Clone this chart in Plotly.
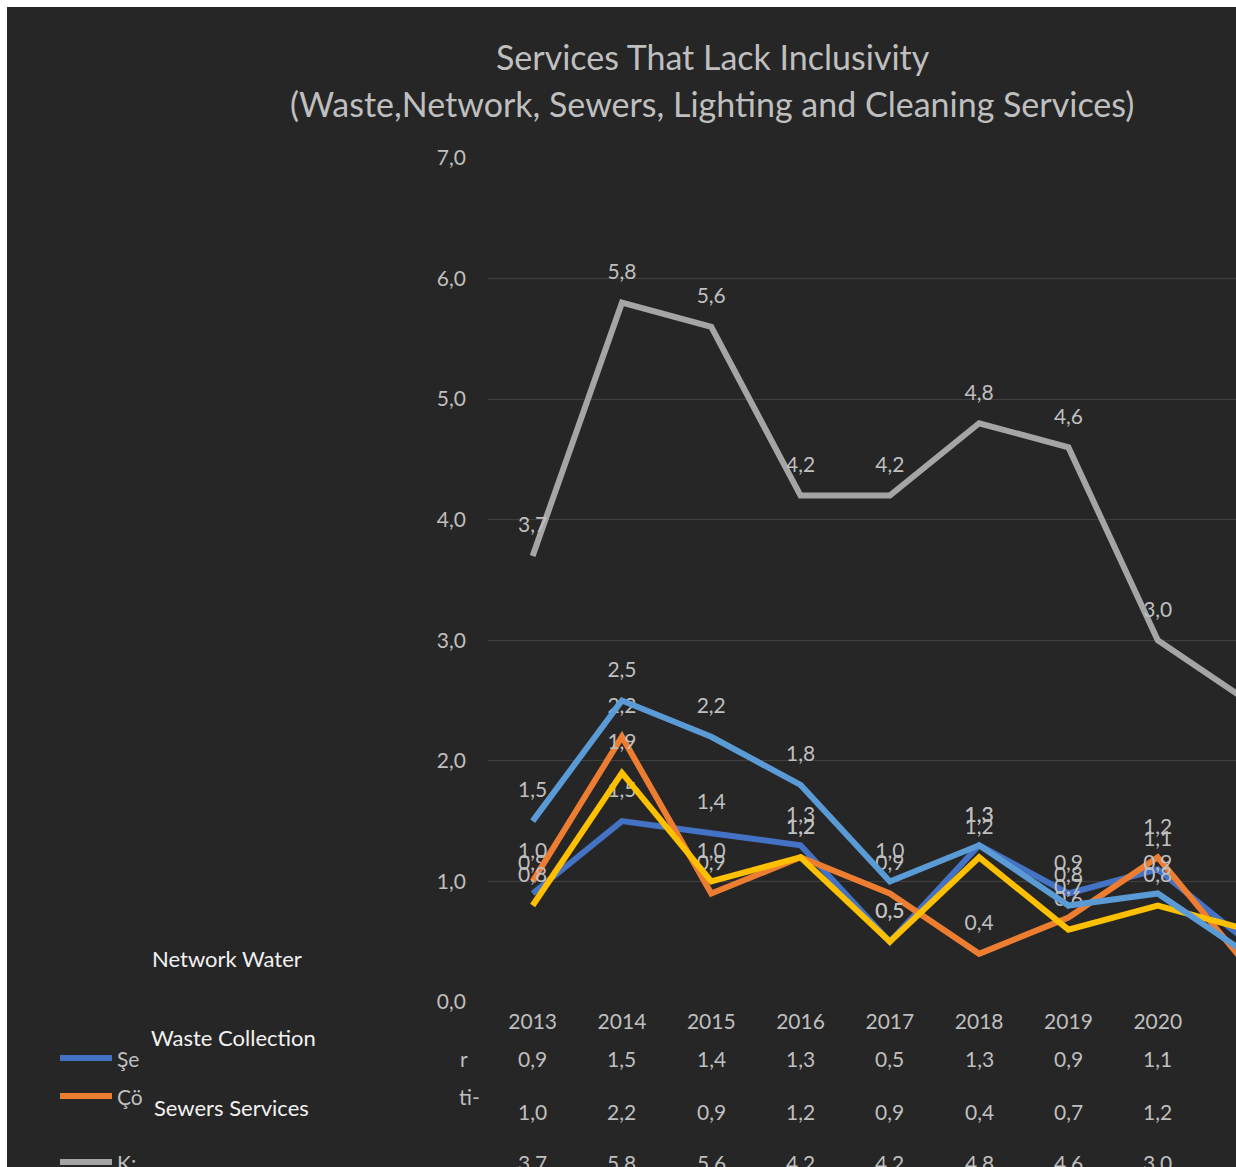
import plotly.graph_objects as go

# ---- data -------------------------------------------------------------
years = [2013, 2014, 2015, 2016, 2017, 2018, 2019, 2020, 2021]

network_water = [0.9, 1.5, 1.4, 1.3, 0.5, 1.3, 0.9, 1.1, 0.5]
waste_collection = [1.0, 2.2, 0.9, 1.2, 0.9, 0.4, 0.7, 1.2, 0.3]
sewers = [3.7, 5.8, 5.6, 4.2, 4.2, 4.8, 4.6, 3.0, 2.5]
lighting = [0.8, 1.9, 1.0, 1.2, 0.5, 1.2, 0.6, 0.8, 0.6]
cleaning = [1.5, 2.5, 2.2, 1.8, 1.0, 1.3, 0.8, 0.9, 0.4]

series_names = ["Şebeke Suyu", "Çöp Toplama", "Kanalizasyon", "Aydınlatma", "Temizlik"]
series_values = [network_water, waste_collection, sewers, lighting, cleaning]
series_colors = ["#4472C4", "#ED7D31", "#A5A5A5", "#FFC000", "#5B9BD5"]

legend_stubs = ["Şe", "Çö", "K:"]
overlay_labels = ["Network Water", "Waste Collection", "Sewers Services"]
row_header_stubs = ["r", "ti-"]

title_line1 = "Services That Lack Inclusivity"
title_line2 = "(Waste,Network, Sewers, Lighting and Cleaning Services)"

# ---- geometry (pixels) ------------------------------------------------
W, H = 1236, 1167
PL, PR, PT, PB = 488, 1236, 158, 1002          # plot area edges
STEP = 89.3                                     # px per category

FONT = "Lato"
TXT = "#BFBFBF"
BG = "#262626"
GRID = "#404040"
FS = 21


def px_x(px):
    return (px - PL) / (PR - PL)


def px_y(py):
    return (PB - py) / (PB - PT)


def fmt(v):
    return f"{v:.1f}".replace(".", ",")


fig = go.Figure()

for name, vals, col in zip(series_names, series_values, series_colors):
    fig.add_trace(go.Scatter(
        x=years, y=vals, name=name,
        mode="lines+markers+text",
        line=dict(color=col, width=6),
        marker=dict(size=28, color="rgba(0,0,0,0)"),
        text=[fmt(v) for v in vals],
        textposition="top center",
        textfont=dict(family=FONT, size=FS, color=TXT),
        cliponaxis=False,
        showlegend=False,
        hoverinfo="skip",
    ))

annotations = []

# title (two lines)
annotations.append(dict(text=title_line1, xref="paper", yref="paper",
                        x=px_x(713), y=px_y(57), xanchor="center", yanchor="middle",
                        showarrow=False, font=dict(family=FONT, size=34, color=TXT)))
annotations.append(dict(text=title_line2, xref="paper", yref="paper",
                        x=px_x(712), y=px_y(103), xanchor="center", yanchor="middle",
                        showarrow=False, font=dict(family=FONT, size=34, color=TXT)))

# data table rows beneath the axis
row_y = [1058, 1111, 1162]
for ry, vals in zip(row_y, series_values[:3]):
    for yr, v in zip(years, vals):
        annotations.append(dict(text=fmt(v), xref="x", yref="paper", x=yr, y=px_y(ry),
                                xanchor="center", yanchor="middle", showarrow=False,
                                font=dict(family=FONT, size=FS, color=TXT)))

# legend keys of the table
key_y = [1058, 1096, 1162]
shapes = [dict(type="rect", xref="paper", yref="paper",
               x0=px_x(7), x1=px_x(1236), y0=px_y(7), y1=px_y(1167),
               fillcolor=BG, line=dict(width=0), layer="below")]
for ky, col, stub in zip(key_y, series_colors[:3], legend_stubs):
    shapes.append(dict(type="line", xref="paper", yref="paper",
                       x0=px_x(60), x1=px_x(112), y0=px_y(ky), y1=px_y(ky),
                       line=dict(color=col, width=6)))
    annotations.append(dict(text=stub, xref="paper", yref="paper",
                            x=px_x(115), y=px_y(ky), xanchor="left", yanchor="middle",
                            showarrow=False, font=dict(family=FONT, size=FS, color=TXT)))

for (hx, hy), stub in zip([(470, 1058), (482, 1096)], row_header_stubs):
    annotations.append(dict(text=stub, xref="paper", yref="paper",
                            x=px_x(hx), y=px_y(hy), xanchor="right", yanchor="middle",
                            showarrow=False, font=dict(family=FONT, size=FS, color=TXT)))

# overlaid text boxes
for (lx, ly), lab in zip([(150, 958), (149, 1037), (152, 1107)], overlay_labels):
    annotations.append(dict(text=lab, xref="paper", yref="paper",
                            x=px_x(lx), y=px_y(ly), xanchor="left", yanchor="middle",
                            showarrow=False, font=dict(family=FONT, size=22, color="#F2F2F2")))

fig.update_layout(
    width=W, height=H,
    margin=dict(l=PL, r=W - PR, t=PT, b=H - PB, pad=0),
    paper_bgcolor="#FFFFFF",
    plot_bgcolor="rgba(0,0,0,0)",
    separators=",.",
    font=dict(family=FONT, color=TXT),
    annotations=annotations,
    shapes=shapes,
)

fig.update_xaxes(
    range=[2012.5, 2012.5 + (PR - PL) / STEP],
    tickvals=years, ticktext=[str(y) for y in years],
    showgrid=False, zeroline=False, showline=False, ticks="",
    tickfont=dict(family=FONT, size=FS, color=TXT),
    ticklabelstandoff=5,
)
fig.update_yaxes(
    range=[0, 7], dtick=1, tickformat=".1f",
    showgrid=True, gridcolor=GRID, gridwidth=1.3,
    zeroline=False, showline=False, ticks="",
    tickfont=dict(family=FONT, size=FS, color=TXT),
    ticklabelstandoff=21,
)

fig.write_html("out.html")
